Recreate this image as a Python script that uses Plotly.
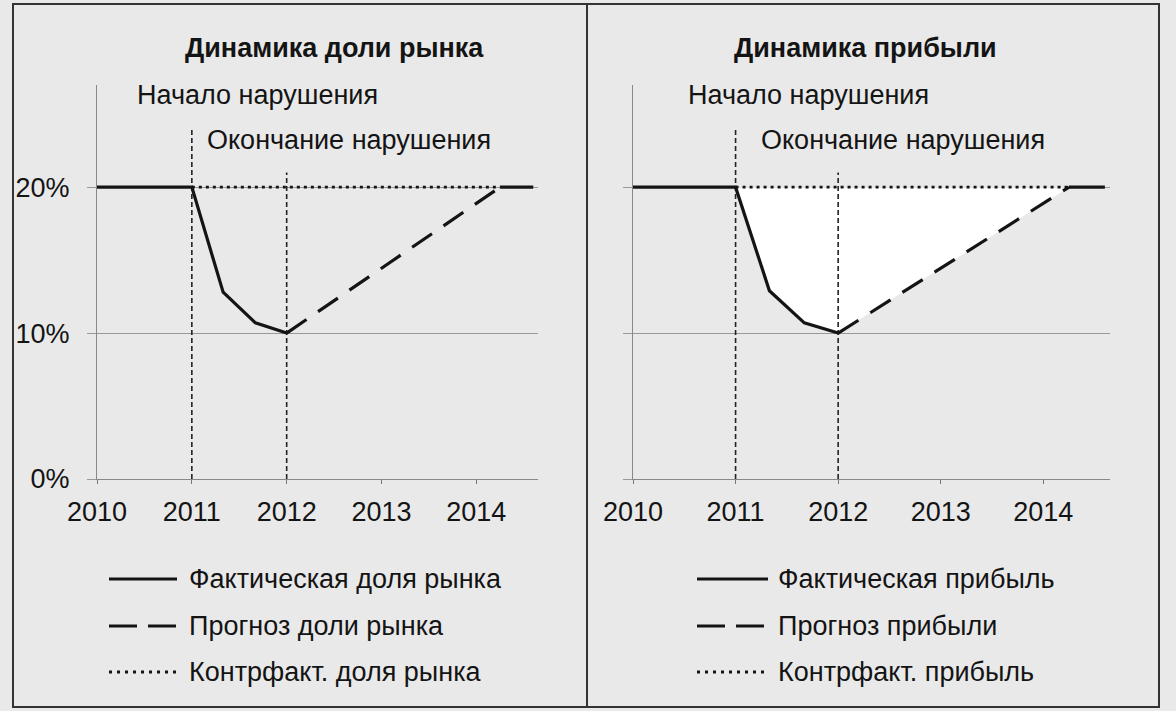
import plotly.graph_objects as go

W, H = 1176, 711

# ---- data ----
years_actual = [2010, 2011, 2011.33, 2011.67, 2012]
share_actual = [20, 20, 12.8, 10.7, 10]
years_forecast = [2012, 2014.25]
share_forecast = [10, 20]
years_tail = [2014.25, 2014.6]
share_tail = [20, 20]
years_cf = [2011, 2014.25]
share_cf = [20, 20]

profit_actual = [20, 20, 12.9, 10.7, 10]
profit_forecast = [10, 20]
profit_tail = [20, 20]
profit_cf = [20, 20]

event_years = [2011, 2012]
event_tops = [24, 21]

x_ticks = [2010, 2011, 2012, 2013, 2014]
y_ticks = [0, 10, 20]
y_tick_labels = ["0%", "10%", "20%"]

titles = ["Динамика доли рынка", "Динамика прибыли"]
event_labels = ["Начало нарушения", "Окончание нарушения"]
names_share = ["Фактическая доля рынка", "Прогноз доли рынка", "Контрфакт. доля рынка"]
names_profit = ["Фактическая прибыль", "Прогноз прибыли", "Контрфакт. прибыль"]

# ---- styling ----
BG = "#e9e9e9"
INK = "#141414"
FONT = "Liberation Sans, Arial, sans-serif"
FS = 27

def px(x):
    return x / W

def py(y):
    return 1 - y / H

fig = go.Figure()

def add_panel(xa, ya, act, fc, tail, cf, names, fill):
    if fill:
        fx = years_actual[1:] + years_forecast[1:] + years_cf[::-1]
        fy = act[1:] + fc[1:] + cf[::-1]
        fig.add_trace(go.Scatter(x=fx, y=fy, mode="lines", fill="toself",
                                 fillcolor="white", line=dict(width=0),
                                 showlegend=False, hoverinfo="skip",
                                 xaxis=xa, yaxis=ya))
    for ex, et in zip(event_years, event_tops):
        fig.add_trace(go.Scatter(x=[ex, ex], y=[0, et], mode="lines",
                                 line=dict(color="#222", width=1.6, dash="5px,3px"),
                                 showlegend=False, hoverinfo="skip",
                                 xaxis=xa, yaxis=ya))
    fig.add_trace(go.Scatter(x=years_cf, y=cf, mode="lines", name=names[2],
                             line=dict(color=INK, width=2.8, dash="3px,4px"),
                             showlegend=False, xaxis=xa, yaxis=ya))
    fig.add_trace(go.Scatter(x=years_forecast, y=fc, mode="lines", name=names[1],
                             line=dict(color=INK, width=3.2, dash="24px,14px"),
                             showlegend=False, xaxis=xa, yaxis=ya))
    fig.add_trace(go.Scatter(x=years_actual + [None] + years_tail,
                             y=act + [None] + tail, mode="lines", name=names[0],
                             line=dict(color=INK, width=3.2),
                             showlegend=False, connectgaps=False,
                             xaxis=xa, yaxis=ya))

add_panel("x", "y", share_actual, share_forecast, share_tail, share_cf, names_share, False)
add_panel("x2", "y2", profit_actual, profit_forecast, profit_tail, profit_cf, names_profit, True)

ydom = [py(479), py(85)]
xcommon = dict(range=[2010, 2014.65], tickvals=x_ticks, ticks="outside", ticklen=4,
               tickcolor="#777", showline=True, linecolor="#888", linewidth=1,
               showgrid=False, zeroline=False, ticklabelstandoff=5, automargin=False,
               tickfont=dict(family=FONT, size=FS, color=INK), fixedrange=True)
ycommon = dict(range=[0, 27], tickvals=y_ticks, ticktext=y_tick_labels, ticks="outside",
               ticklen=9, tickcolor="#999", showline=True, linecolor="#888", linewidth=1,
               showgrid=True, gridcolor="#999", gridwidth=1, zeroline=False,
               tickfont=dict(family=FONT, size=FS, color=INK), ticklabelstandoff=12,
               automargin=False, fixedrange=True)

fig.update_layout(
    width=W, height=H,
    margin=dict(l=0, r=0, t=0, b=0, pad=0),
    paper_bgcolor=BG, plot_bgcolor="rgba(0,0,0,0)",
    showlegend=False,
    xaxis=dict(domain=[px(97), px(538)], anchor="y", **xcommon),
    yaxis=dict(domain=ydom, anchor="x", **ycommon),
    xaxis2=dict(domain=[px(633), px(1110)], anchor="y2", **xcommon),
    yaxis2=dict(domain=ydom, anchor="x2", showticklabels=False, **ycommon),
)

shapes = []
annotations = []
# panel frames
for x0, x1 in [(13, 587), (587, 1159)]:
    shapes.append(dict(type="rect", xref="paper", yref="paper",
                       x0=px(x0), x1=px(x1), y0=py(707), y1=py(4),
                       line=dict(color="#333", width=2), layer="above"))

# titles
for cx, t in [(334, titles[0]), (865, titles[1])]:
    annotations.append(dict(text="<b>" + t + "</b>", x=px(cx), y=py(48), xref="paper",
                            yref="paper", showarrow=False, xanchor="center", yanchor="middle",
                            font=dict(family=FONT, size=FS, color=INK)))

# event labels
for (x_start, x_end) in [(135, 205), (686, 759)]:
    annotations.append(dict(text=event_labels[0], x=px(x_start), y=py(95), xref="paper",
                            yref="paper", showarrow=False, xanchor="left", yanchor="middle",
                            font=dict(family=FONT, size=FS, color=INK)))
    annotations.append(dict(text=event_labels[1], x=px(x_end), y=py(140), xref="paper",
                            yref="paper", showarrow=False, xanchor="left", yanchor="middle",
                            font=dict(family=FONT, size=FS, color=INK)))

# custom legends
legend_rows = [579, 626, 672]
styles = [dict(width=3.2, dash="solid"), dict(width=3.2, dash="28px,11px"),
          dict(width=2.8, dash="3px,5px")]
for gx0, gx1, tx, names in [(109, 177, 187, names_share), (697, 768, 776, names_profit)]:
    for ry, st, nm in zip(legend_rows, styles, names):
        shapes.append(dict(type="line", xref="paper", yref="paper",
                           x0=px(gx0), x1=px(gx1), y0=py(ry), y1=py(ry),
                           line=dict(color=INK, **st)))
        annotations.append(dict(text=nm, x=px(tx), y=py(ry), xref="paper", yref="paper",
                                showarrow=False, xanchor="left", yanchor="middle",
                                font=dict(family=FONT, size=FS, color=INK)))

fig.update_layout(shapes=shapes, annotations=annotations)
fig.write_html("out.html")
